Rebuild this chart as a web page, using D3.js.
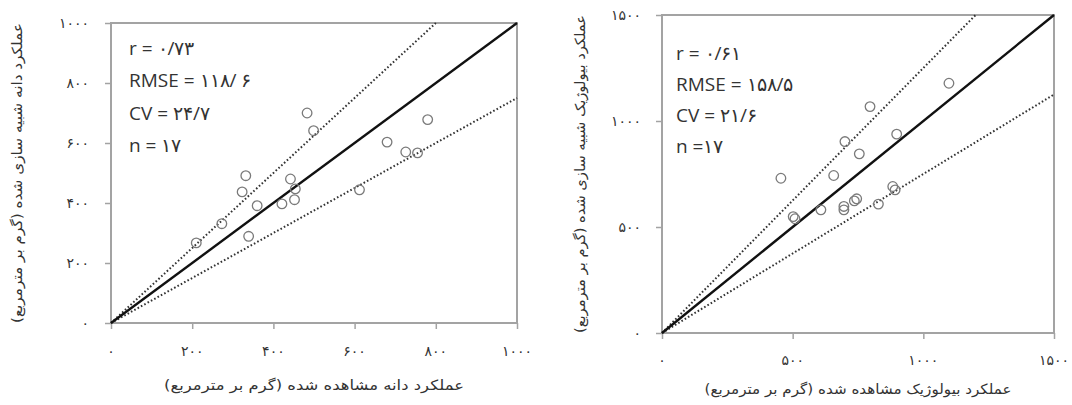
<!DOCTYPE html>
<html>
<head>
<meta charset="utf-8">
<script src="https://cdn.jsdelivr.net/npm/d3@7"></script>
<style>
  html, body { margin: 0; padding: 0; background: #fff; }
  svg { display: block; }
</style>
</head>
<body>
<div id="chart"></div>
<script>
// grain yield: observed vs simulated (g/m2)
const grainObs = [483, 499, 332, 442, 323, 454, 360, 421, 452, 273, 339, 210, 780, 680, 726, 755, 612];
const grainSim = [700, 641, 491, 480, 437, 447, 391, 397, 411, 331, 289, 267, 678, 603, 570, 567, 444];
const grainTicks = [0, 200, 400, 600, 800, 1000];
const grainStats = ["r = ۰/۷۳", "RMSE = ۱۱۸/ ۶", "CV = ۲۴/۷", "n = ۱۷"];

// biological yield: observed vs simulated (g/m2)
const bioObs = [1098, 796, 898, 700, 755, 455, 657, 883, 892, 736, 696, 696, 608, 828, 502, 509, 745];
const bioSim = [1178, 1068, 938, 903, 845, 730, 743, 691, 675, 623, 597, 581, 581, 608, 549, 539, 633];
const bioTicks = [0, 500, 1000, 1500];
const bioStats = ["r = ۰/۶۱", "RMSE = ۱۵۸/۵", "CV = ۲۱/۶", "n =۱۷"];

const xTitles = ["عملکرد دانه مشاهده شده (گرم بر مترمربع)", "عملکرد بیولوژیک مشاهده شده (گرم بر مترمربع)"];
const yTitles = ["عملکرد دانه شبیه سازی شده (گرم بر مترمربع)", "عملکرد بیولوژیک شبیه سازی شده (گرم بر مترمربع)"];

const W = 1072, H = 405;
const faDigits = "۰۱۲۳۴۵۶۷۸۹";
const toFa = (n) => String(n).replace(/\d/g, (d) => faDigits[+d]);

const svg = d3.select("#chart").append("svg").attr("width", W).attr("height", H);

const panels = [
  { obs: grainObs, sim: grainSim, ticks: grainTicks, stats: grainStats, max: 1000,
    x0: 111, x1: 517, y0: 323, y1: 23, statX: 129, statY: 48, statGap: 32.5,
    xLabY: 351, yLabX: 89, xTitle: xTitles[0], yTitle: yTitles[0],
    xtY: 385, xtLen: 300, ytX: 17, ytLen: 300 },
  { obs: bioObs, sim: bioSim, ticks: bioTicks, stats: bioStats, max: 1500,
    x0: 662, x1: 1054, y0: 333, y1: 15, statX: 676, statY: 53, statGap: 31,
    xLabY: 360, yLabX: 641, xTitle: xTitles[1], yTitle: yTitles[1],
    xtY: 389, xtLen: 307, ytX: 580, ytLen: 318 }
];

const GRID = "#a3a3a3";
const POINT = "#7a7a7a";

panels.forEach((p) => {
  const x = d3.scaleLinear().domain([0, p.max]).range([p.x0, p.x1]);
  const y = d3.scaleLinear().domain([0, p.max]).range([p.y0, p.y1]);
  const g = svg.append("g");

  // ticks (outside)
  const xAxis = g.append("g").attr("transform", `translate(0,${p.y0})`)
    .call(d3.axisBottom(x).tickValues(p.ticks).tickSize(6).tickFormat(() => ""));
  const yAxis = g.append("g").attr("transform", `translate(${p.x0},0)`)
    .call(d3.axisLeft(y).tickValues(p.ticks).tickSize(6).tickFormat(() => ""));
  [xAxis, yAxis].forEach((a) => {
    a.select(".domain").remove();
    a.selectAll(".tick line").attr("stroke", GRID).attr("stroke-width", 1.5);
  });

  // tick labels
  g.selectAll(".xl").data(p.ticks).enter().append("text")
    .attr("x", (d) => x(d)).attr("y", p.xLabY).attr("dy", "0.35em")
    .attr("text-anchor", "middle")
    .style("font", "14px 'DejaVu Sans'").style("letter-spacing", "1.5px").attr("fill", "#333")
    .text((d) => toFa(d));
  g.selectAll(".yl").data(p.ticks).enter().append("text")
    .attr("x", p.yLabX).attr("y", (d) => y(d)).attr("dy", "0.35em")
    .attr("text-anchor", "end")
    .style("font", "14px 'DejaVu Sans'").style("letter-spacing", "1.5px").attr("fill", "#333")
    .text((d) => toFa(d));

  // frame
  g.append("rect")
    .attr("x", x(0)).attr("y", y(p.max))
    .attr("width", x(p.max) - x(0)).attr("height", y(0) - y(p.max))
    .attr("fill", "none").attr("stroke", GRID).attr("stroke-width", 2);

  const line = d3.line().x((d) => x(d[0])).y((d) => y(d[1]));

  // +-25% lines
  g.append("path").attr("d", line([[0, 0], [p.max / 1.25, p.max]]))
    .attr("fill", "none").attr("stroke", "#333").attr("stroke-width", 2)
    .attr("stroke-dasharray", "1.6,2.2");
  g.append("path").attr("d", line([[0, 0], [p.max, p.max * 0.75]]))
    .attr("fill", "none").attr("stroke", "#333").attr("stroke-width", 2)
    .attr("stroke-dasharray", "1.6,2.2");

  // 1:1 line
  g.append("path").attr("d", line([[0, 0], [p.max, p.max]]))
    .attr("fill", "none").attr("stroke", "#111").attr("stroke-width", 2.4);

  // points
  g.selectAll("circle").data(p.obs).enter().append("circle")
    .attr("cx", (d) => x(d)).attr("cy", (d, i) => y(p.sim[i])).attr("r", 4.8)
    .attr("fill", "none").attr("stroke", POINT).attr("stroke-width", 1.3);

  // stats
  g.selectAll(".st").data(p.stats).enter().append("text")
    .attr("x", p.statX).attr("y", (d, i) => p.statY + i * p.statGap).attr("dy", "0.35em")
    .style("font", "19px 'Open Sans'").attr("fill", "#333")
    .text((d) => d);

  // axis titles
  g.append("text").attr("x", (p.x0 + p.x1) / 2).attr("y", p.xtY).attr("dy", "0.35em")
    .attr("text-anchor", "middle").attr("direction", "rtl")
    .attr("textLength", p.xtLen).attr("lengthAdjust", "spacingAndGlyphs")
    .style("font", "14px 'DejaVu Sans'").attr("fill", "#333")
    .text(p.xTitle);
  g.append("text")
    .attr("transform", `translate(${p.ytX},${(p.y0 + p.y1) / 2}) rotate(-90)`)
    .attr("dy", "0.35em")
    .attr("text-anchor", "middle").attr("direction", "rtl")
    .attr("textLength", p.ytLen).attr("lengthAdjust", "spacingAndGlyphs")
    .style("font", "14px 'DejaVu Sans'").attr("fill", "#333")
    .text(p.yTitle);
});
</script>
</body>
</html>
